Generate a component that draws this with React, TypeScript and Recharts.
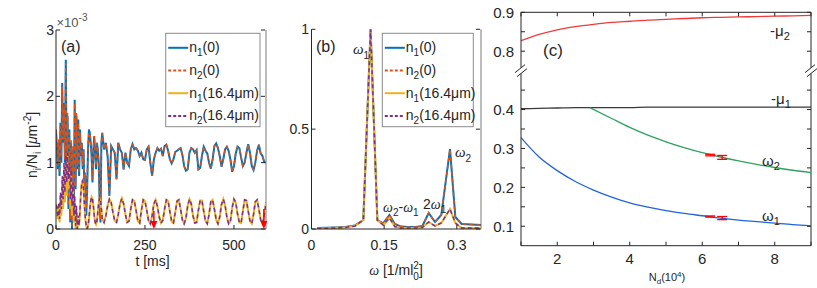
import React from 'react';
import { LineChart, Line, XAxis, YAxis, ReferenceLine, ReferenceDot, ErrorBar } from 'recharts';

const FONT = '"Liberation Sans", Arial, Helvetica, sans-serif';
const SERIF = '"Liberation Serif", "DejaVu Serif", serif';
const AX = '#262626';

// ---------------- panel (a): density vs time ----------------
const tEarly = [0, 2.5, 5, 7.5, 10, 12.5, 15, 17.5, 20, 22.5, 25, 27.5, 30, 32.5, 35, 37.5, 40, 42.5, 45, 47.5, 50, 52.5, 55, 57.5, 60, 62.5, 65, 67.5, 70, 72.5, 75, 77.5, 80, 82.5, 85, 87.5, 90, 92.5, 95, 97.5, 100, 102.5, 105, 107.5, 110, 112.5, 115, 117.5, 120, 122.5, 125, 127.5, 130];
const tLate = [135, 140, 145, 150, 155, 160, 165, 170, 175, 180, 185, 190, 195, 200, 205, 210, 215, 220, 225, 230, 235, 240, 245, 250, 255, 260, 265, 270, 275, 280, 285, 290, 295, 300, 305, 310, 315, 320, 325, 330, 335, 340, 345, 350, 355, 360, 365, 370, 375, 380, 385, 390, 395, 400, 405, 410, 415, 420, 425, 430, 435, 440, 445, 450, 455, 460, 465, 470, 475, 480, 485, 490, 495, 500, 505, 510, 515, 520, 525, 530, 535, 540, 545, 550, 555, 560, 565, 570, 575, 580, 585, 590];

const n1CenterEarly = [1.5, 1.2, 0.9, 1.3, 0.8, 1.6, 1.0, 2.2, 1.3, 1.9, 1.0, 2.55, 0.9, 1.7, 0.3, 1.5, 0.1, 1.3, 0.0, 1.2, 0.2, 1.95, 0.6, 1.7, 0.9, 1.65, 0.8, 1.5, 1.1, 1.3, 0.9, 1.2, 0.5, 0.8, 0.2, 0.6, 1.2, 1.5, 1.45, 1.3, 1.1, 0.7, 1.2, 1.4, 1.1, 0.9, 1.3, 1.2, 1.0, 0.4, 0.1, 1.3, 1.45];
const n2CenterEarly = [1.5, 1.25, 0.95, 1.35, 0.85, 1.55, 1.1, 2.15, 1.35, 1.85, 1.05, 2.5, 0.95, 1.75, 0.35, 1.45, 0.15, 1.35, 0.05, 1.25, 0.25, 1.9, 0.65, 1.75, 0.95, 1.6, 0.85, 1.45, 1.15, 1.3, 0.95, 1.2, 0.55, 0.85, 0.3, 0.65, 1.2, 1.45, 1.45, 1.3, 1.1, 0.75, 1.2, 1.4, 1.1, 0.95, 1.3, 1.2, 1.0, 0.45, 0.15, 1.3, 1.45];
const n1CenterLate = [
  1.2, 1.3, 1.1, 0.5, 1.25, 1.2, 1.15, 0.75, 1.3, 1.2,
  1.15, 0.9, 1.15, 1.0, 0.95, 1.2, 1.28, 1.2, 1.22, 1.18,
  1.1, 1.15, 1.05, 1.04, 1.2, 1.24, 1.0, 0.8, 1.05, 1.15,
  1.22, 1.18, 1.21, 1.1, 1.25, 1.27, 1.18, 1.05, 0.99, 1.05,
  1.16, 1.18, 1.2, 1.22, 1.12, 0.95, 0.88, 0.9, 1.15, 1.22,
  1.2, 1.15, 1.19, 0.9, 0.92, 1.1, 1.24, 1.18, 1.14, 1.0,
  0.91, 1.05, 1.25, 1.29, 1.22, 1.1, 0.94, 1.05, 1.2, 1.24,
  1.18, 1.05, 0.86, 0.95, 1.14, 1.24, 1.22, 1.08, 0.95, 1.0,
  1.15, 1.28, 1.15, 0.95, 0.89, 1.0, 1.18, 1.27, 1.14, 1.1,
  1.01, 1.0,
];
const n1FarEarly = [0.38, 0.3, 0.15, 0.35, 0.1, 0.5, 0.2, 0.7, 0.3, 0.9, 0.4, 1.0, 0.5, 1.1, 0.6, 0.9, 0.3, 0.8, 0.2, 0.6, 0.1, 0.45, 0.0, 0.3, 0.0, 0.15, 0.05, 0.3, 0.55, 0.7, 0.74, 0.6, 0.35, 0.15, 0.05, 0.0, 0.05, 0.15, 0.3, 0.42, 0.48, 0.45, 0.35, 0.2, 0.1, 0.07, 0.12, 0.25, 0.4, 0.47, 0.42, 0.3, 0.15];
const n2FarEarly = [0.36, 0.32, 0.18, 0.4, 0.15, 0.55, 0.3, 0.8, 0.45, 1.0, 0.55, 1.1, 0.7, 1.15, 0.75, 1.0, 0.45, 0.9, 0.35, 0.7, 0.2, 0.5, 0.05, 0.35, 0.0, 0.2, 0.05, 0.3, 0.55, 0.7, 0.73, 0.6, 0.35, 0.15, 0.05, 0.0, 0.05, 0.15, 0.3, 0.42, 0.48, 0.45, 0.35, 0.2, 0.1, 0.07, 0.12, 0.25, 0.4, 0.47, 0.42, 0.3, 0.15];
const n1FarLate = [
  0.1, 0.2, 0.35, 0.45, 0.4, 0.25, 0.12, 0.1, 0.22, 0.38,
  0.46, 0.38, 0.22, 0.1, 0.12, 0.3, 0.44, 0.42, 0.28, 0.12,
  0.09, 0.28, 0.44, 0.42, 0.28, 0.13, 0.08, 0.2, 0.38, 0.44,
  0.34, 0.18, 0.09, 0.13, 0.3, 0.44, 0.42, 0.26, 0.11, 0.09,
  0.25, 0.42, 0.44, 0.3, 0.14, 0.08, 0.16, 0.35, 0.45, 0.38,
  0.2, 0.09, 0.1, 0.28, 0.43, 0.43, 0.27, 0.12, 0.08, 0.22,
  0.41, 0.44, 0.3, 0.14, 0.08, 0.18, 0.37, 0.45, 0.36, 0.18,
  0.08, 0.12, 0.32, 0.45, 0.4, 0.23, 0.1, 0.09, 0.27, 0.44,
  0.43, 0.27, 0.12, 0.08, 0.22, 0.41, 0.44, 0.3, 0.14, 0.08,
  0.2, 0.4,
];
const timeA = [...tEarly, ...tLate];
const n1Center = [...n1CenterEarly, ...n1CenterLate];
const n2Center = [...n2CenterEarly, ...n1CenterLate];
const n1Far = [...n1FarEarly, ...n1FarLate];
const n2Far = [...n2FarEarly, ...n1FarLate];
const arrowTimes = [275, 584];
const arrowTop = [0.27, 0.3];

const dataA = timeA.map((t, i) => ({ t, a: n1Center[i], b: n2Center[i], c: n1Far[i], d: n2Far[i] }));

// ---------------- panel (b): spectrum ----------------
const omegaB = [0.012, 0.03, 0.05, 0.07, 0.09, 0.107, 0.122, 0.136, 0.148, 0.161, 0.172, 0.185, 0.2, 0.215, 0.229, 0.242, 0.255, 0.268, 0.286, 0.297, 0.31, 0.33, 0.35];
const specCenter = [0.005, 0.006, 0.008, 0.01, 0.018, 0.045, 1.0, 0.045, 0.028, 0.07, 0.025, 0.012, 0.01, 0.01, 0.015, 0.08, 0.035, 0.07, 0.4, 0.06, 0.025, 0.022, 0.02];
const specFar = [0.003, 0.004, 0.005, 0.008, 0.015, 0.045, 1.0, 0.045, 0.02, 0.055, 0.012, 0.005, 0.005, 0.005, 0.008, 0.035, 0.015, 0.03, 0.1, 0.03, 0.005, 0.005, 0.005];
const dataB = omegaB.map((w, i) => ({ w, a: specCenter[i], b: specCenter[i], c: specFar[i], d: specFar[i] }));

// ---------------- panel (c): vs N_d ----------------
const nd = [1, 1.5, 2, 2.5, 3, 3.5, 4, 4.5, 5, 5.5, 6, 6.5, 7, 7.5, 8, 8.5, 9];
const minusMu2 = [0.827, 0.843, 0.855, 0.863, 0.869, 0.874, 0.877, 0.88, 0.882, 0.884, 0.886, 0.887, 0.888, 0.889, 0.89, 0.891, 0.892];
const minusMu1 = [0.402, 0.403, 0.404, 0.405, 0.405, 0.405, 0.405, 0.406, 0.406, 0.406, 0.406, 0.406, 0.406, 0.406, 0.406, 0.406, 0.406];
const omega1 = [0.328, 0.278, 0.243, 0.215, 0.193, 0.175, 0.16, 0.149, 0.14, 0.133, 0.127, 0.121, 0.116, 0.112, 0.108, 0.104, 0.101];
const ndOmega2 = [2.9, 3.5, 4, 4.5, 5, 5.5, 6, 6.5, 7, 7.5, 8, 8.5, 9];
const omega2 = [0.405, 0.377, 0.354, 0.334, 0.317, 0.302, 0.289, 0.278, 0.268, 0.259, 0.251, 0.244, 0.238];
const ndMeasured = [6.22, 6.55];
const omega2Measured = [0.283, 0.277];
const omega2Err = [0.002, 0.005];
const omega1Measured = [0.125, 0.121];
const omega1Err = [0.0015, 0.004];

// axis break: values above 0.7 are shifted down by 0.25
const BREAK_SHIFT = 0.25;
const toDisp = (v: number) => (v >= 0.7 ? v - BREAK_SHIFT : v);
const mu2Data = nd.map((n, i) => ({ N: n, v: toDisp(minusMu2[i]) }));
const mu1Data = nd.map((n, i) => ({ N: n, v: toDisp(minusMu1[i]) }));
const w1Data = nd.map((n, i) => ({ N: n, v: omega1[i] }));
const w2Data = ndOmega2.map((n, i) => ({ N: n, v: omega2[i] }));
const w2Meas = ndMeasured.map((n, i) => ({ N: n, v: omega2Measured[i], e: omega2Err[i] }));
const w1Meas = ndMeasured.map((n, i) => ({ N: n, v: omega1Measured[i], e: omega1Err[i] }));

// ---------------- tick helpers ----------------
type TickOpts = {
  fmt: (v: number) => string | null;
  len: number;
  mirror?: number;
  mirrorColor?: string;
  fontSize: number;
  gap: number;
};
const bottomTick = (o: TickOpts) => (p: any) => {
  const { x, y, payload } = p;
  const lab = o.fmt(payload.value);
  return (
    <g>
      <line x1={x} x2={x} y1={y} y2={y - o.len} stroke={AX} strokeWidth={1} />
      {o.mirror !== undefined && (
        <line x1={x} x2={x} y1={o.mirror} y2={o.mirror + o.len} stroke={o.mirrorColor ?? AX} strokeWidth={1} />
      )}
      {lab !== null && (
        <text x={x} y={y + o.gap} textAnchor="middle" fontSize={o.fontSize} fontFamily={FONT} fill={AX}>
          {lab}
        </text>
      )}
    </g>
  );
};
const leftTick = (o: TickOpts) => (p: any) => {
  const { x, y, payload } = p;
  const lab = o.fmt(payload.value);
  return (
    <g>
      <line x1={x} x2={x + o.len} y1={y} y2={y} stroke={AX} strokeWidth={1} />
      {o.mirror !== undefined && (
        <line x1={o.mirror} x2={o.mirror - o.len} y1={y} y2={y} stroke={o.mirrorColor ?? AX} strokeWidth={1} />
      )}
      {lab !== null && (
        <text x={x - o.gap} y={y} dy="0.36em" textAnchor="end" fontSize={o.fontSize} fontFamily={FONT} fill={AX}>
          {lab}
        </text>
      )}
    </g>
  );
};

const C_BLUE = '#0072BD';
const C_ORANGE = '#D95319';
const C_YELLOW = '#EDB120';
const C_PURPLE = '#7E2F8E';
const DASH = '4 3';

const legendItems = [
  { color: C_BLUE, dash: undefined as string | undefined, sub: '1', tail: '(0)' },
  { color: C_ORANGE, dash: '3 2', sub: '2', tail: '(0)' },
  { color: C_YELLOW, dash: undefined as string | undefined, sub: '1', tail: '(16.4\u03bcm)' },
  { color: C_PURPLE, dash: '3 2', sub: '2', tail: '(16.4\u03bcm)' },
];

function LegendBox({ x, y, w, h }: { x: number; y: number; w: number; h: number }) {
  return (
    <g>
      <rect x={x} y={y} width={w} height={h} fill="#fff" stroke="#8a8a8a" strokeWidth={1} />
      {legendItems.map((it, i) => {
        const ly = y + 14.5 + i * 22.7;
        return (
          <g key={i}>
            <line x1={x + 2.5} x2={x + 22.5} y1={ly} y2={ly} stroke={it.color} strokeWidth={2} strokeDasharray={it.dash} />
            <text x={x + 23.5} y={ly + 4.5} fontSize={14} fontFamily={FONT} fill={AX}>
              n<tspan dy={4} fontSize={10}>{it.sub}</tspan>
              <tspan dy={-4}>{it.tail}</tspan>
            </text>
          </g>
        );
      })}
    </g>
  );
}

const arrowShape = (p: any) => {
  const { cx, cy } = p;
  return <polygon points={`${cx - 3.5},${cy - 8} ${cx + 3.5},${cy - 8} ${cx},${cy}`} fill="#ff0000" />;
};
const breakShape = (p: any) => {
  const { cx, cy } = p;
  return (
    <g>
      <rect x={cx - 2} y={cy - 3} width={4} height={6} fill="#fff" />
      <line x1={cx - 6} y1={cy + 2} x2={cx + 4} y2={cy - 6} stroke={AX} strokeWidth={1} />
      <line x1={cx - 4} y1={cy + 6} x2={cx + 6} y2={cy - 2} stroke={AX} strokeWidth={1} />
    </g>
  );
};

const A = { left: 56, right: 266, top: 30, bottom: 229 };
const B = { left: 311.5, right: 481, top: 29.3, bottom: 229 };
const Cc = { left: 521, right: 811, top: 12.3, bottom: 245.7 };
const W = 817;
const H = 288;

const cLabels: Record<string, string> = { '0.1': '0.1', '0.2': '0.2', '0.3': '0.3', '0.4': '0.4', '0.55': '0.8', '0.65': '0.9' };

export default function App() {
  const abs: React.CSSProperties = { position: 'absolute', left: 0, top: 0 };
  return (
    <div style={{ position: 'relative', width: W, height: H, background: '#fff', overflow: 'hidden' }}>
      <style>{`body{margin:0}`}</style>

      {/* panel (a) */}
      <LineChart width={W} height={H} data={dataA} style={abs}
        margin={{ top: A.top, right: W - A.right, bottom: H - A.bottom - 30, left: A.left - 40 }}>
        <XAxis dataKey="t" type="number" domain={[0, 590]} ticks={[0, 250, 500]} interval={0} height={30}
          allowDataOverflow tickSize={0} tickMargin={0} tickLine={false} stroke={AX}
          tick={bottomTick({ fmt: (v) => String(v), len: 4, fontSize: 14, gap: 20.5 })} />
        <YAxis type="number" domain={[0, 3]} ticks={[0, 1, 2, 3]} interval={0} width={40}
          allowDataOverflow tickSize={0} tickMargin={0} tickLine={false} stroke={AX}
          tick={leftTick({ fmt: (v) => String(v), len: 4, mirror: A.right - 1, fontSize: 14, gap: 2 })} />
        <ReferenceLine x={590} stroke="#bcbcbc" strokeWidth={2} />
        <Line dataKey="a" stroke={C_BLUE} strokeWidth={2} dot={false} isAnimationActive={false} />
        <Line dataKey="b" stroke={C_ORANGE} strokeWidth={1.5} strokeDasharray={DASH} dot={false} isAnimationActive={false} />
        <Line dataKey="c" stroke={C_YELLOW} strokeWidth={2} dot={false} isAnimationActive={false} />
        <Line dataKey="d" stroke={C_PURPLE} strokeWidth={1.5} strokeDasharray={DASH} dot={false} isAnimationActive={false} />
        {arrowTimes.map((t, i) => (
          <ReferenceLine key={'al' + i} segment={[{ x: t, y: arrowTop[i] }, { x: t, y: 0.08 }]} stroke="#ff0000" strokeWidth={1.5} />
        ))}
        {arrowTimes.map((t, i) => (
          <ReferenceDot key={'ad' + i} x={t} y={0} r={0} shape={arrowShape} />
        ))}
      </LineChart>

      {/* panel (b) */}
      <LineChart width={W} height={H} data={dataB} style={abs}
        margin={{ top: B.top, right: W - B.right, bottom: H - B.bottom - 30, left: B.left - 40 }}>
        <XAxis dataKey="w" type="number" domain={[0, 0.35]} ticks={[0, 0.15, 0.3]} interval={0} height={30}
          allowDataOverflow tickSize={0} tickMargin={0} tickLine={false} stroke={AX}
          tick={bottomTick({ fmt: (v) => String(v), len: 4, fontSize: 14, gap: 20.5 })} />
        <YAxis type="number" domain={[0, 1]} ticks={[0, 0.5, 1]} interval={0} width={40}
          allowDataOverflow tickSize={0} tickMargin={0} tickLine={false} stroke={AX}
          tick={leftTick({ fmt: (v) => String(v), len: 4, mirror: B.right - 1, fontSize: 14, gap: 2.5 })} />
        <ReferenceLine x={0.35} stroke="#bcbcbc" strokeWidth={2} />
        <Line dataKey="a" stroke={C_BLUE} strokeWidth={2} dot={false} isAnimationActive={false} />
        <Line dataKey="b" stroke={C_ORANGE} strokeWidth={1.5} strokeDasharray={DASH} dot={false} isAnimationActive={false} />
        <Line dataKey="c" stroke={C_YELLOW} strokeWidth={2} dot={false} isAnimationActive={false} />
        <Line dataKey="d" stroke={C_PURPLE} strokeWidth={1.5} strokeDasharray={DASH} dot={false} isAnimationActive={false} />
      </LineChart>

      {/* panel (c) */}
      <LineChart width={W} height={H} style={abs}
        margin={{ top: Cc.top, right: W - Cc.right, bottom: H - Cc.bottom - 30, left: Cc.left - 40 }}>
        <XAxis dataKey="N" type="number" domain={[1, 9]} ticks={[1, 2, 3, 4, 5, 6, 7, 8, 9]} interval={0} height={30}
          allowDataOverflow tickSize={0} tickMargin={0} tickLine={false} stroke={AX}
          tick={bottomTick({ fmt: (v) => (v % 2 === 0 ? String(v) : null), len: 4, mirror: Cc.top, fontSize: 15, gap: 18 })} />
        <YAxis type="number" domain={[0.05, 0.65]} ticks={[0.1, 0.15, 0.2, 0.25, 0.3, 0.35, 0.4, 0.45, 0.55, 0.6, 0.65]}
          interval={0} width={40} allowDataOverflow tickSize={0} tickMargin={0} tickLine={false} stroke={AX}
          tick={leftTick({ fmt: (v) => cLabels[String(Math.round(v * 100) / 100)] ?? null, len: 4, mirror: Cc.right, fontSize: 15, gap: 7 })} />
        <ReferenceLine y={0.65} stroke={AX} strokeWidth={1} />
        <ReferenceLine x={9} stroke={AX} strokeWidth={1} />
        <Line data={mu2Data} dataKey="v" type="monotone" stroke="#f03a3a" strokeWidth={1.3} dot={false} isAnimationActive={false} />
        <Line data={mu1Data} dataKey="v" type="monotone" stroke="#3a3a3a" strokeWidth={1.3} dot={false} isAnimationActive={false} />
        <Line data={w2Data} dataKey="v" type="monotone" stroke="#2ca25f" strokeWidth={1.3} dot={false} isAnimationActive={false} />
        <Line data={w1Data} dataKey="v" type="monotone" stroke="#1f63e0" strokeWidth={1.3} dot={false} isAnimationActive={false} />
        <Line data={w2Meas} dataKey="v" stroke="none" dot={false} isAnimationActive={false}>
          <ErrorBar dataKey="e" width={5} stroke="#ff0000" strokeWidth={1.3} direction="y" />
        </Line>
        <Line data={w1Meas} dataKey="v" stroke="none" dot={false} isAnimationActive={false}>
          <ErrorBar dataKey="e" width={5} stroke="#ff0000" strokeWidth={1.3} direction="y" />
        </Line>
        <ReferenceDot x={1} y={0.5} r={0} shape={breakShape} />
        <ReferenceDot x={9} y={0.5} r={0} shape={breakShape} />
      </LineChart>

      {/* titles, legends and annotations */}
      <svg width={W} height={H} style={{ ...abs, pointerEvents: 'none' }} fontFamily={FONT}>
        {/* panel (a) */}
        <text x={56.5} y={26.5} fontSize={13} fill="#555">
          {'\u00d710'}<tspan dy={-6} fontSize={10}>-3</tspan>
        </text>
        <text x={61} y={52} fontSize={16} fill={AX}>(a)</text>
        <text x={152.5} y={266} fontSize={14} fill={AX} textAnchor="middle">t [ms]</text>
        <text transform="translate(36.5,145) rotate(-90)" fontSize={14} fill={AX} textAnchor="middle">
          n<tspan dy={4} fontSize={10}>i</tspan><tspan dy={-4}>/N</tspan><tspan dy={4} fontSize={10}>i</tspan>
          <tspan dy={-4}> [</tspan><tspan fontStyle="italic">{'\u03bc'}</tspan>m<tspan dy={-6} fontSize={10}>-2</tspan><tspan dy={6}>]</tspan>
        </text>
        <LegendBox x={165.7} y={33.3} w={94.3} h={93.4} />

        {/* panel (b) */}
        <text x={316} y={52} fontSize={16} fill={AX}>(b)</text>
        <text x={353} y={54} fontSize={15} fill={AX} fontFamily={SERIF} fontStyle="italic">
          {'\u03c9'}<tspan dy={5} fontSize={10} fontStyle="normal" fontFamily={FONT}>1</tspan>
        </text>
        <text x={455} y={157} fontSize={15} fill={AX} fontFamily={SERIF} fontStyle="italic">
          {'\u03c9'}<tspan dy={5} fontSize={10} fontStyle="normal" fontFamily={FONT}>2</tspan>
        </text>
        <text x={383} y={212} fontSize={14} fill={AX}>
          <tspan fontFamily={SERIF} fontStyle="italic">{'\u03c9'}</tspan><tspan dy={4} fontSize={10}>2</tspan>
          <tspan dy={-4}>-</tspan><tspan fontFamily={SERIF} fontStyle="italic">{'\u03c9'}</tspan><tspan dy={4} fontSize={10}>1</tspan>
        </text>
        <text x={423} y={209} fontSize={14} fill={AX}>
          2<tspan fontFamily={SERIF} fontStyle="italic">{'\u03c9'}</tspan><tspan dy={4} fontSize={10}>1</tspan>
        </text>
        <text x={396} y={274.5} fontSize={14} fill={AX} textAnchor="middle">
          <tspan fontFamily={SERIF} fontStyle="italic">{'\u03c9'}</tspan> [1/ml<tspan dy={5} fontSize={10}>0</tspan>
          <tspan dy={-11} dx={-5.5} fontSize={10}>2</tspan><tspan dy={6}>]</tspan>
        </text>
        <LegendBox x={382.3} y={33.3} w={91} h={93.4} />

        {/* panel (c) */}
        <text x={543} y={56} fontSize={17} fill={AX}>(c)</text>
        <text x={770} y={36} fontSize={15} fill={AX}>
          -{'\u03bc'}<tspan dy={4} fontSize={11}>2</tspan>
        </text>
        <text x={771} y={104} fontSize={15} fill={AX}>
          -{'\u03bc'}<tspan dy={4} fontSize={11}>1</tspan>
        </text>
        <text x={762} y={166} fontSize={15} fill={AX}>
          {'\u03c9'}<tspan dy={4} fontSize={11}>2</tspan>
        </text>
        <text x={762} y={221} fontSize={15} fill={AX}>
          {'\u03c9'}<tspan dy={4} fontSize={11}>1</tspan>
        </text>
        <text x={667} y={281} fontSize={11} fill={AX} textAnchor="middle">
          N<tspan dy={3} fontSize={8}>d</tspan><tspan dy={-3}>(10</tspan><tspan dy={-4} fontSize={8}>4</tspan><tspan dy={4}>)</tspan>
        </text>
      </svg>
    </div>
  );
}
